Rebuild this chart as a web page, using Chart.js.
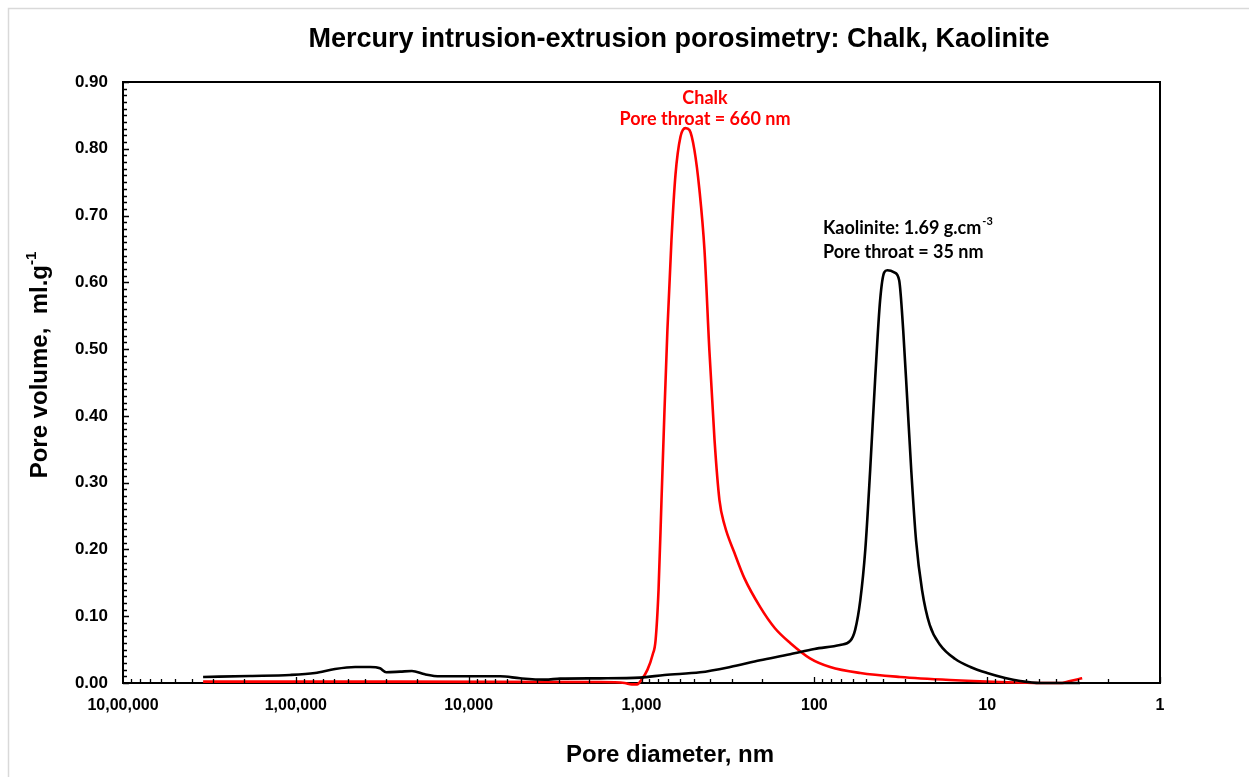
<!DOCTYPE html>
<html><head><meta charset="utf-8">
<script src="https://cdn.jsdelivr.net/npm/chart.js@4.4.1/dist/chart.umd.min.js"></script>
<style>html,body{margin:0;padding:0;background:#fff;}canvas{display:block;}</style>
</head><body>
<canvas id="c" width="1249" height="777"></canvas>
<script>
const chartTitle = "Mercury intrusion-extrusion porosimetry: Chalk, Kaolinite";
const xAxisTitle = "Pore diameter, nm";
const yAxisTitle = "Pore volume,  ml.g";
const yAxisTitleSup = "-1";
const chalkNote = ["Chalk", "Pore throat = 660 nm"];
const kaoNote1 = "Kaolinite: 1.69 g.cm";
const kaoNote1Sup = "-3";
const kaoNote2 = "Pore throat = 35 nm";
const xTickValues = [1000000, 100000, 10000, 1000, 100, 10, 1];
const xTickLabels = ["10,00,000", "1,00,000", "10,000", "1,000", "100", "10", "1"];
const yTickValues = [0, 0.1, 0.2, 0.3, 0.4, 0.5, 0.6, 0.7, 0.8, 0.9];

const kaoDiam = [344000,184000,108000,77400,59300,45400,37200,32600,30000,24900,
  21300,17900,14600,6580,5040,3610,2960,1740,1020,736,
  458,307,206,138,100,71,62,58,54.2,50.7,
  47.5,44.5,41.6,39.4,37.8,34.5,32.3,30.6,29.0,27.5,
  25.8,23.8,21.5,18.7,15.3,12.5,10,7.87,6.44,4.93,
  3.77,2.9];
const kaoVol = [0.009,0.0105,0.012,0.015,0.021,0.024,0.024,0.022,0.016,0.017,
  0.018,0.013,0.010,0.010,0.007,0.005,0.0065,0.007,0.008,0.012,
  0.016,0.024,0.034,0.043,0.051,0.057,0.063,0.08,0.124,0.2,
  0.32,0.454,0.574,0.615,0.618,0.615,0.603,0.528,0.424,0.319,
  0.214,0.139,0.087,0.057,0.036,0.024,0.015,0.0075,0.003,0,
  0,0];
const chalkDiam = [344000,24900,1740,1250,1140,1060,1000,923,863,829,
  797,766,736,708,671,636,595,557,528,494,
  462,432,405,378,354,331,290,254,206,169,
  138,106,81,54.2,31.9,16.4,8.41,4.93,3.68,3.31,
  2.82];
const chalkVol = [0.002,0.002,0.0015,0.0,-0.002,-0.002,0.005,0.02,0.042,0.064,
  0.139,0.274,0.409,0.529,0.663,0.761,0.818,0.831,0.828,0.798,
  0.738,0.648,0.499,0.364,0.274,0.237,0.195,0.157,0.114,0.082,
  0.060,0.037,0.024,0.015,0.009,0.0045,0.0015,0,0,0.003,
  0.007];

const toPoints = (xs, ys) => xs.map((x, i) => ({x: x, y: ys[i]}));
const FONT = "'Liberation Sans', Arial, sans-serif";
const NOTE_FONT = "Lato, 'Liberation Sans', sans-serif";

const decor = {
  id: 'decor',
  beforeDraw(chart) {
    const ctx = chart.ctx;
    ctx.save();
    ctx.fillStyle = '#fff';
    ctx.fillRect(0, 0, chart.width, chart.height);
    ctx.strokeStyle = '#d9d9d9';
    ctx.lineWidth = 1.5;
    ctx.beginPath();
    ctx.moveTo(8.5, chart.height);
    ctx.lineTo(8.5, 8.5);
    ctx.lineTo(chart.width, 8.5);
    ctx.stroke();
    ctx.restore();
  },
  afterDraw(chart) {
    const ctx = chart.ctx;
    const a = chart.chartArea;
    const xs = chart.scales.x, ys = chart.scales.y;
    ctx.save();
    ctx.strokeStyle = '#000';
    ctx.lineWidth = 2;
    ctx.beginPath();
    ctx.moveTo(a.left, a.top); ctx.lineTo(a.right, a.top); ctx.lineTo(a.right, a.bottom);
    ctx.stroke();
    // tick marks
    ctx.lineWidth = 1.3;
    ctx.beginPath();
    for (let i = 0; i <= 90; i++) {
      const py = Math.round(ys.getPixelForValue(i / 100)) + 0.5;
      const len = (i % 10 === 0) ? 6 : 4;
      ctx.moveTo(a.left, py); ctx.lineTo(a.left + len, py);
    }
    for (let e = 0; e < 6; e++) {
      for (let m = 1; m <= 9; m++) {
        const v = m * Math.pow(10, e);
        const px = Math.round(xs.getPixelForValue(v)) + 0.5;
        const len = (m === 1) ? 6 : 4;
        ctx.moveTo(px, a.bottom); ctx.lineTo(px, a.bottom - len);
      }
    }
    ctx.stroke();
    // titles
    ctx.fillStyle = '#000';
    ctx.textAlign = 'center';
    ctx.textBaseline = 'middle';
    ctx.font = "bold 27px " + FONT;
    ctx.fillText(chartTitle, 679, 40);
    ctx.font = "bold 24px " + FONT;
    ctx.fillText(xAxisTitle, 670, 755);
    // y title rotated
    ctx.save();
    ctx.translate(40, 365);
    ctx.rotate(-Math.PI / 2);
    ctx.font = "bold 24px " + FONT;
    const w1 = ctx.measureText(yAxisTitle).width;
    ctx.font = "bold 15px " + FONT;
    const w2 = ctx.measureText(yAxisTitleSup).width;
    const start = -(w1 + w2) / 2;
    ctx.textAlign = 'left';
    ctx.font = "bold 24px " + FONT;
    ctx.fillText(yAxisTitle, start, 0);
    ctx.font = "bold 15px " + FONT;
    ctx.fillText(yAxisTitleSup, start + w1, -8);
    ctx.restore();
    // notes
    ctx.font = "bold 18px " + NOTE_FONT;
    ctx.fillStyle = '#ff0000';
    ctx.textAlign = 'center';
    ctx.fillText(chalkNote[0], 705, 98);
    ctx.fillText(chalkNote[1], 705, 119);
    ctx.fillStyle = '#000';
    ctx.textAlign = 'left';
    ctx.fillText(kaoNote1, 823, 228);
    const kw = ctx.measureText(kaoNote1).width;
    ctx.font = "bold 11px " + NOTE_FONT;
    ctx.fillText(kaoNote1Sup, 823 + kw + 1, 221);
    ctx.font = "bold 18px " + NOTE_FONT;
    ctx.fillText(kaoNote2, 823, 252);
    ctx.restore();
  }
};

new Chart(document.getElementById('c'), {
  type: 'line',
  data: {
    datasets: [
      {label: 'Kaolinite', data: toPoints(kaoDiam, kaoVol), borderColor: '#000', borderWidth: 2.6,
       pointRadius: 0, cubicInterpolationMode: 'monotone', fill: false, clip: false},
      {label: 'Chalk', data: toPoints(chalkDiam, chalkVol), borderColor: '#ff0000', borderWidth: 2.6,
       pointRadius: 0, cubicInterpolationMode: 'monotone', fill: false, clip: false}
    ]
  },
  options: {
    responsive: false,
    animation: false,
    devicePixelRatio: 1,
    layout: {padding: {left: 63, top: 82, right: 89, bottom: 54}},
    plugins: {legend: {display: false}, tooltip: {enabled: false}, title: {display: false}},
    scales: {
      x: {
        type: 'logarithmic', reverse: true, min: 1, max: 1000000,
        grid: {display: false, drawTicks: false},
        border: {display: true, color: '#000', width: 2},
        afterBuildTicks(scale) { scale.ticks = xTickValues.map(v => ({value: v})); },
        afterFit(scale) { scale.height = 40; },
        ticks: {
          autoSkip: false, maxRotation: 0, padding: 13, color: '#000',
          font: {family: FONT, size: 16, weight: 'bold'},
          callback(value) { const i = xTickValues.indexOf(value); return i >= 0 ? xTickLabels[i] : ''; }
        }
      },
      y: {
        min: 0, max: 0.9,
        grid: {display: false, drawTicks: false},
        border: {display: true, color: '#000', width: 2},
        afterBuildTicks(scale) { scale.ticks = yTickValues.map(v => ({value: v})); },
        afterFit(scale) { scale.width = 60; },
        ticks: {
          padding: 15, color: '#000',
          font: {family: FONT, size: 17, weight: 'bold'},
          callback(value) { return Number(value).toFixed(2); }
        }
      }
    }
  },
  plugins: [decor]
});
</script>
</body></html>
